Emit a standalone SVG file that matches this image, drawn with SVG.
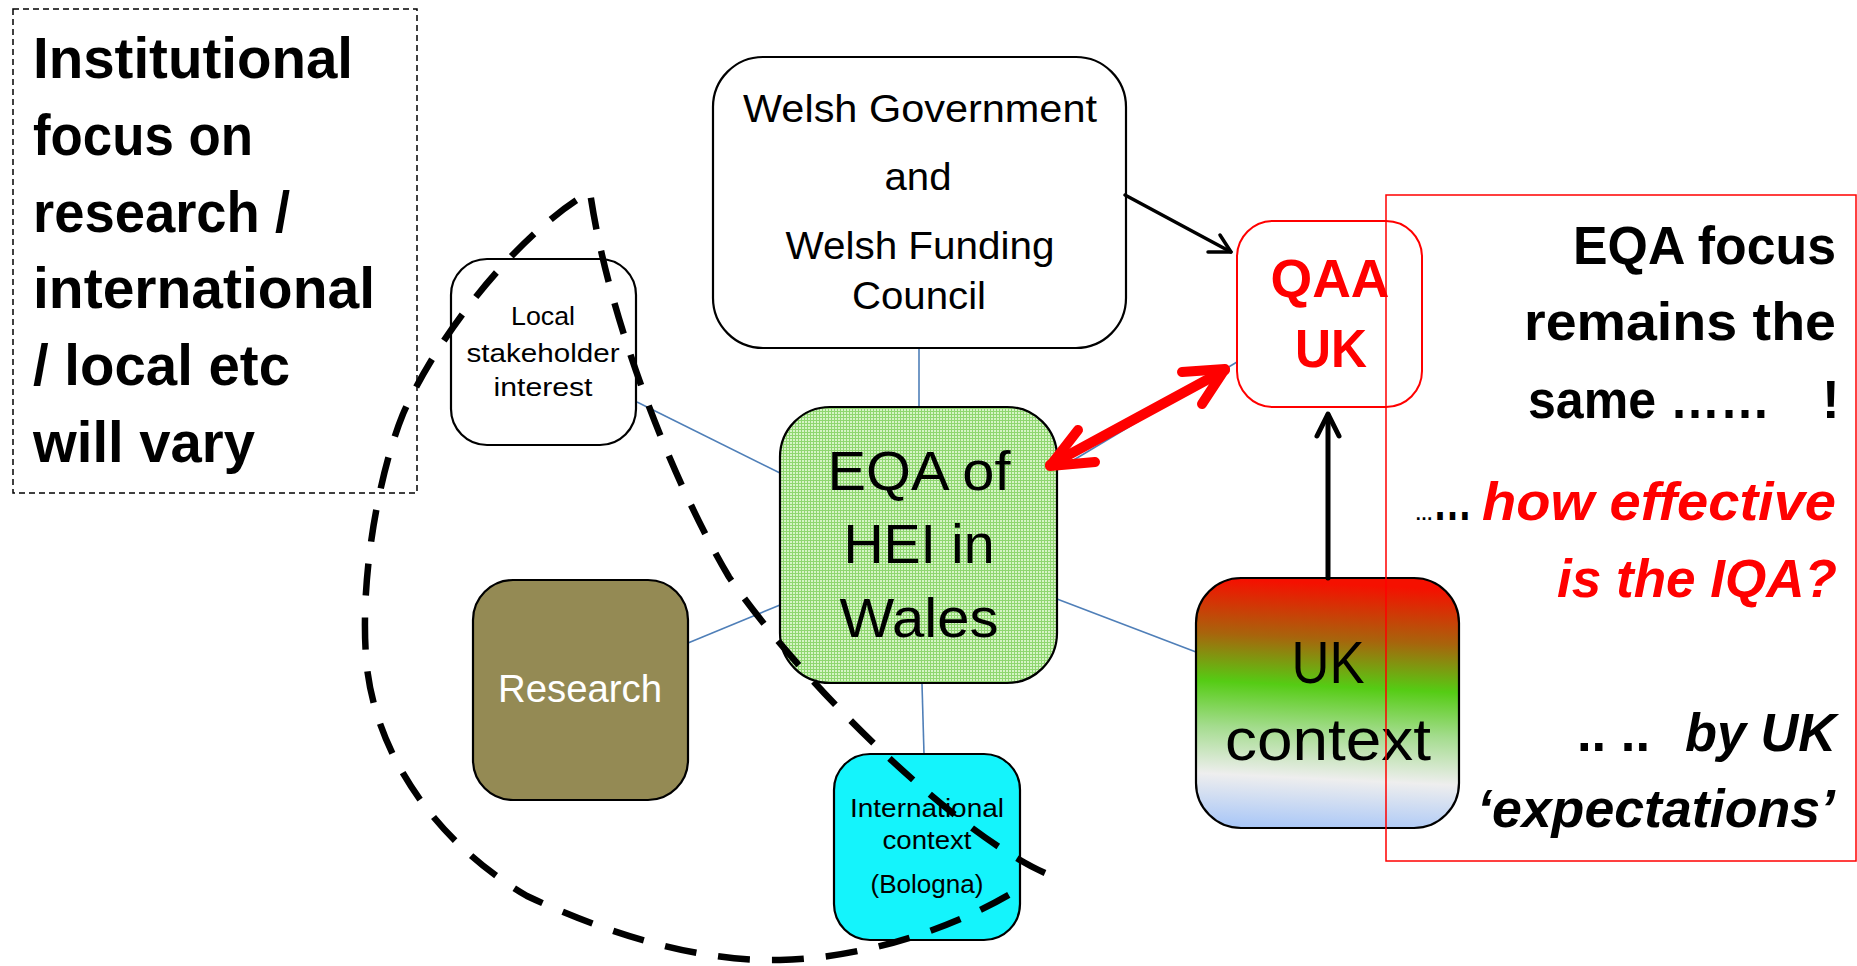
<svg xmlns="http://www.w3.org/2000/svg" width="1857" height="966" viewBox="0 0 1857 966">
<defs>
<pattern id="grid" width="3" height="3" patternUnits="userSpaceOnUse">
<rect width="3" height="3" fill="#d6f4c6"/>
<path d="M0 0.5H3M0.5 0V3" stroke="#8fd670" stroke-width="1"/>
</pattern>
<linearGradient id="ukg" x1="0.05" y1="0" x2="0" y2="1">
<stop offset="0" stop-color="#f51000"/>
<stop offset="0.22" stop-color="#a8640c"/>
<stop offset="0.41" stop-color="#55cc14"/>
<stop offset="0.59" stop-color="#a4dc8e"/>
<stop offset="0.78" stop-color="#eeeeee"/>
<stop offset="1" stop-color="#a4c4f8"/>
</linearGradient>
<style>
text{font-family:"Liberation Sans",Arial,sans-serif;}
.box{stroke:#000;stroke-width:2.2;}
.conn{stroke:#4f7fb8;stroke-width:1.6;fill:none;}
.c{text-anchor:middle;}
.e{text-anchor:end;}
.b{font-weight:bold;}
.i{font-style:italic;}
.red{fill:#ff0000;}
</style>
</defs>

<g id="left-note">
<rect x="13" y="9" width="404" height="484" fill="none" stroke="#000" stroke-width="1.5" stroke-dasharray="6 4"/>
<g class="b" font-size="57">
<text x="33" y="78" textLength="320" lengthAdjust="spacingAndGlyphs">Institutional</text>
<text x="33" y="155" textLength="220" lengthAdjust="spacingAndGlyphs">focus on</text>
<text x="33" y="232" textLength="257" lengthAdjust="spacingAndGlyphs">research /</text>
<text x="33" y="308" textLength="342" lengthAdjust="spacingAndGlyphs">international</text>
<text x="33" y="385" textLength="257" lengthAdjust="spacingAndGlyphs">/ local etc</text>
<text x="33" y="462" textLength="222" lengthAdjust="spacingAndGlyphs">will vary</text>
</g>
</g>

<g id="connectors">
<line class="conn" x1="919" y1="348" x2="919" y2="407"/>
<line class="conn" x1="637" y1="402" x2="780" y2="473"/>
<line class="conn" x1="688" y1="643" x2="780" y2="605"/>
<line class="conn" x1="922" y1="684" x2="924" y2="754"/>
<line class="conn" x1="1057" y1="599" x2="1196" y2="652"/>
<line class="conn" x1="1057" y1="470" x2="1237" y2="362"/>
</g>

<g id="welsh-government">
<rect class="box" x="713" y="57" width="413" height="291" rx="50" fill="#fff"/>
<g class="c" font-size="38">
<text x="920" y="122" textLength="354" lengthAdjust="spacingAndGlyphs">Welsh Government</text>
<text x="918" y="190" textLength="67" lengthAdjust="spacingAndGlyphs">and</text>
<text x="920" y="259" textLength="269" lengthAdjust="spacingAndGlyphs">Welsh Funding</text>
<text x="919" y="309" textLength="134" lengthAdjust="spacingAndGlyphs">Council</text>
</g>
</g>

<g id="qaa-uk">
<rect x="1237" y="221" width="185" height="186" rx="36" fill="#fff" stroke="#ff0000" stroke-width="2"/>
<g class="c b red" font-size="53">
<text x="1330" y="297" textLength="119" lengthAdjust="spacingAndGlyphs">QAA</text>
<text x="1331" y="367" textLength="72" lengthAdjust="spacingAndGlyphs">UK</text>
</g>
</g>

<g id="local-stakeholder">
<rect class="box" x="451" y="259" width="185" height="186" rx="36" fill="#fff"/>
<g class="c" font-size="25">
<text x="543" y="325" textLength="64" lengthAdjust="spacingAndGlyphs">Local</text>
<text x="543" y="362" textLength="153" lengthAdjust="spacingAndGlyphs">stakeholder</text>
<text x="543" y="396" textLength="99" lengthAdjust="spacingAndGlyphs">interest</text>
</g>
</g>

<g id="eqa-hei">
<rect class="box" x="780" y="407" width="277" height="276" rx="50" fill="url(#grid)"/>
<g class="c" font-size="56">
<text x="919" y="490" textLength="183" lengthAdjust="spacingAndGlyphs">EQA of</text>
<text x="919" y="563" textLength="151" lengthAdjust="spacingAndGlyphs">HEI in</text>
<text x="919" y="637" textLength="159" lengthAdjust="spacingAndGlyphs">Wales</text>
</g>
</g>

<g id="research">
<rect class="box" x="473" y="580" width="215" height="220" rx="40" fill="#948a54"/>
<text class="c" x="580" y="702" font-size="38" fill="#fff" textLength="164" lengthAdjust="spacingAndGlyphs">Research</text>
</g>

<g id="international">
<rect class="box" x="834" y="754" width="186" height="186" rx="36" fill="#14f4fc"/>
<g class="c" font-size="25">
<text x="927" y="817" textLength="154" lengthAdjust="spacingAndGlyphs">International</text>
<text x="927" y="849" textLength="89" lengthAdjust="spacingAndGlyphs">context</text>
<text x="927" y="893" textLength="113" lengthAdjust="spacingAndGlyphs">(Bologna)</text>
</g>
</g>

<g id="uk-context">
<rect class="box" x="1196" y="578" width="263" height="250" rx="45" fill="url(#ukg)"/>
<g class="c" font-size="59">
<text x="1328" y="683" textLength="73" lengthAdjust="spacingAndGlyphs">UK</text>
<text x="1328" y="760" textLength="206" lengthAdjust="spacingAndGlyphs">context</text>
</g>
</g>

<g id="arrows" fill="none" stroke-linecap="round" stroke-linejoin="round">
<line x1="1125" y1="195" x2="1231" y2="252" stroke="#000" stroke-width="3.5"/>
<polyline points="1208,252 1231,252 1220,235" stroke="#000" stroke-width="3.5"/>
<line x1="1328" y1="578" x2="1328" y2="415" stroke="#000" stroke-width="5"/>
<polyline points="1317,436 1328,414 1339,436" stroke="#000" stroke-width="5"/>
<line x1="1050" y1="465" x2="1225" y2="370" stroke="#ff0000" stroke-width="10"/>
<polyline points="1078,430 1050,466 1095,462" stroke="#ff0000" stroke-width="10"/>
<polyline points="1182,372 1225,369 1202,404" stroke="#ff0000" stroke-width="10"/>
</g>

<g id="dashed-loop">
<path d="M1045 873 C950 830 800 680 729 577 C680 495 610 330 590 192 C530 225 445 320 403 414 C380 470 358 580 367 668 C378 760 440 845 527 896 C610 935 700 962 780 960 C870 958 960 925 1017 890" fill="none" stroke="#000" stroke-width="6.5" stroke-dasharray="32 22"/>
</g>

<g id="right-note">
<rect x="1386" y="195" width="470" height="666" fill="none" stroke="#ff0000" stroke-width="1.5"/>
<g class="b" font-size="53">
<text class="e" x="1836" y="264" textLength="263" lengthAdjust="spacingAndGlyphs">EQA focus</text>
<text class="e" x="1836" y="340" textLength="312" lengthAdjust="spacingAndGlyphs">remains the</text>
<text x="1528" y="418" textLength="242" lengthAdjust="spacingAndGlyphs">same ……</text>
<text x="1822" y="418">!</text>
<text x="1415" y="520" font-size="18">…</text>
<text x="1433" y="520" textLength="39" lengthAdjust="spacingAndGlyphs">…</text>
<text class="e i red" x="1836" y="520" textLength="354" lengthAdjust="spacingAndGlyphs">how effective</text>
<text class="e i red" x="1837" y="597" textLength="280" lengthAdjust="spacingAndGlyphs">is the IQA?</text>
<text x="1577" y="751" textLength="73" lengthAdjust="spacingAndGlyphs">.. ..</text>
<text class="e i" x="1836" y="751" textLength="151" lengthAdjust="spacingAndGlyphs">by UK</text>
<text class="e i" x="1835" y="827" textLength="358" lengthAdjust="spacingAndGlyphs">‘expectations’</text>
</g>
</g>
</svg>
